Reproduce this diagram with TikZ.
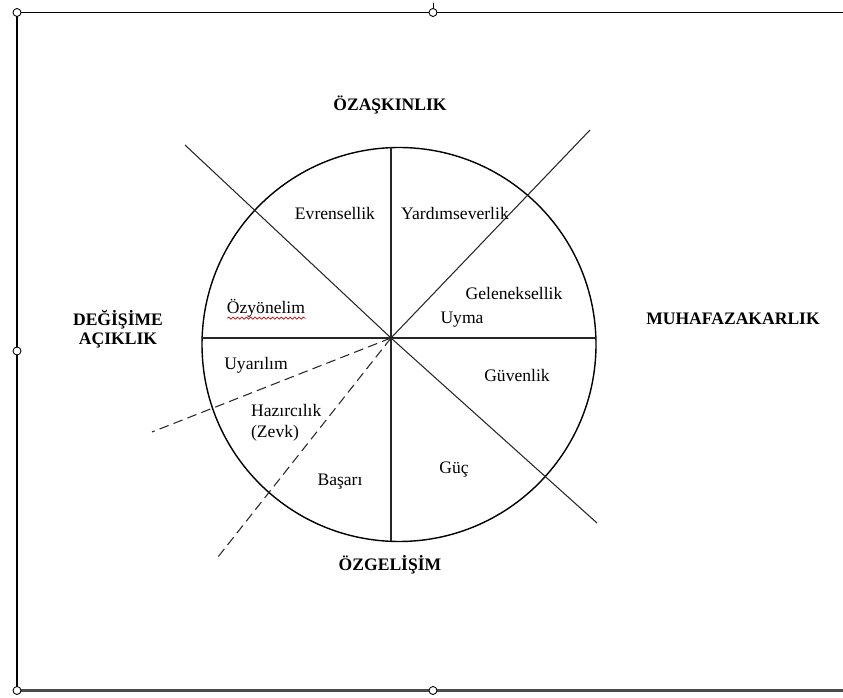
\documentclass[tikz,border=0pt]{standalone}
\usepackage{fontspec}
\setmainfont{Liberation Serif}
\usetikzlibrary{decorations.pathmorphing}
\tikzset{
  lbl/.style={font=\fontsize{10}{12}\selectfont,inner sep=1pt},
  head/.style={font=\fontsize{10}{10.6}\selectfont\bfseries,inner sep=1pt,align=center},
  handle/.style={draw,fill=white,line width=0.5pt},
  cut/.style={line width=0.6pt,black!85},
  guide/.style={line width=0.6pt,black!85,dash pattern=on 5.5pt off 3pt}
}
\begin{document}
\begin{tikzpicture}
  \useasboundingbox (0,0) rectangle (16.86,13.94);
  % frame
  \draw[line width=0.8pt] (16.86,13.69) -- (0.34,13.69) -- (0.34,0.13);
  \draw[line width=1.2pt,black!70] (0.34,0.13) -- (16.86,0.13);
  \draw[line width=0.5pt] (8.66,13.77) -- (8.66,13.87);
  \path[handle] (0.34,13.69) circle(.08);
  \path[handle] (8.66,13.69) circle(.08);
  \path[handle] (0.34,6.92) circle(.08);
  \path[handle] (0.34,0.13) circle(.08);
  \path[handle] (8.66,0.13) circle(.08);
  % wheel
  \coordinate (O) at (7.82,7.18);
  \draw[line width=0.8pt] (7.98,7.05) circle(3.94);
  \draw[cut] (7.82,10.99) -- (7.82,3.12);
  \draw[cut] (4.04,7.18) -- (11.92,7.18);
  \draw[cut] (3.70,11.04) -- (O) -- (11.94,3.48);
  \draw[cut] (O) -- (11.80,11.34);
  \draw[guide] (O) -- (3.04,5.30);
  \draw[guide] (O) -- (4.36,2.80);
  % poles
  \node[head] (ozask) at (7.80,11.84) {ÖZAŞKINLIK};
  \node[head] (muhaf) at (14.66,7.56) {MUHAFAZAKARLIK};
  \node[head] (degis) at (2.36,7.36) {DEĞİŞİME\\AÇIKLIK};
  \node[head] (ozgel) at (7.80,2.64) {ÖZGELİŞİM};
  % values
  \node[lbl] (evren) at (6.70,9.68) {Evrensellik};
  \node[lbl] (yardim) at (9.10,9.68) {Yardımseverlik};
  \node[lbl] (gelen) at (10.28,8.08) {Geleneksellik};
  \node[lbl] (uyma) at (9.24,7.54) {Uyma};
  \node[lbl] (ozyon) at (5.32,7.78) {Özyönelim};
  \draw[red!80!black,line width=0.4pt,decorate,decoration={snake,amplitude=0.6pt,segment length=2.5pt}] (ozyon.south west) ++(0.05,0.02) -- ++(1.58,0);
  \node[lbl] (uyar) at (5.12,6.64) {Uyarılım};
  \node[lbl,anchor=west,align=left] (hazir) at (4.98,5.49) {Hazırcılık\\(Zevk)};
  \node[lbl] (basari) at (6.80,4.30) {Başarı};
  \node[lbl] (guc) at (9.08,4.54) {Güç};
  \node[lbl] (guven) at (10.34,6.44) {Güvenlik};
\end{tikzpicture}
\end{document}
